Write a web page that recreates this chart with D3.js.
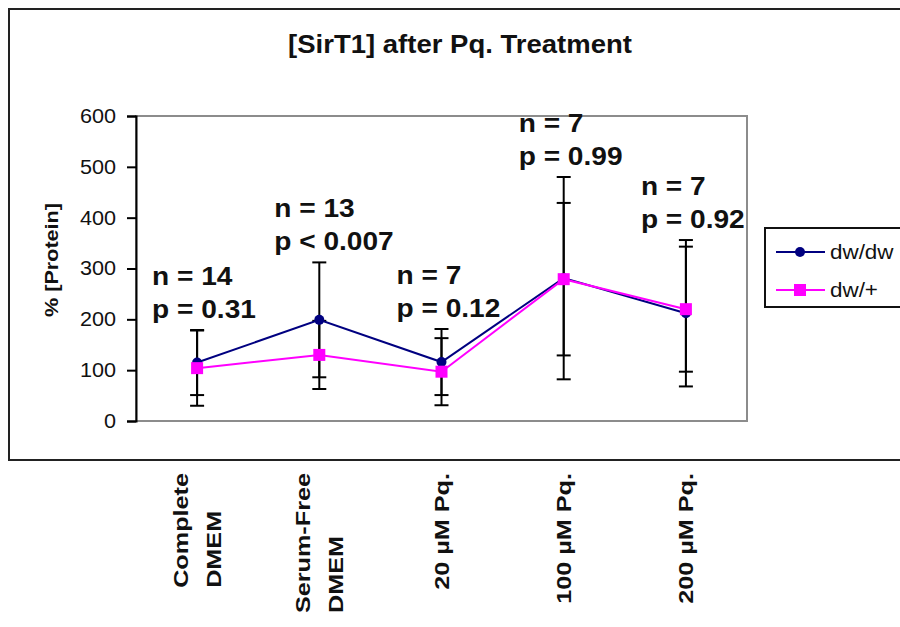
<!DOCTYPE html>
<html>
<head>
<meta charset="utf-8">
<script src="https://cdn.jsdelivr.net/npm/d3@7"></script>
<style>
  html, body { margin: 0; padding: 0; background: #fff; }
  svg { display: block; }
  text { font-family: "Liberation Sans", Arial, sans-serif; fill: #111; }
</style>
</head>
<body>
<svg id="chart" width="900" height="627"></svg>
<script>
// SirT1 protein level per treatment, two genotypes (mean ± error)
const categories = ["Complete DMEM", "Serum-Free DMEM", "20 µM Pq.", "100 µM Pq.", "200 µM Pq."];
const categoryLines = [["Complete", "DMEM"], ["Serum-Free", "DMEM"], ["20 µM Pq."], ["100 µM Pq."], ["200 µM Pq."]];
const dwdwValues = [115, 199, 116, 281, 212];
const dwdwErrors = [64, 113, 65, 199, 144];
const dwplusValues = [104, 130, 97, 279, 220];
const dwplusErrors = [74, 67, 66, 150, 123];
const nLabels = ["n = 14", "n = 13", "n = 7", "n = 7", "n = 7"];
const pLabels = ["p = 0.31", "p < 0.007", "p = 0.12", "p = 0.99", "p = 0.92"];
const yTicks = [0, 100, 200, 300, 400, 500, 600];
const seriesNames = ["dw/dw", "dw/+"];

const series = [
  { name: seriesNames[0], values: dwdwValues, errors: dwdwErrors, color: "#000080", marker: "circle" },
  { name: seriesNames[1], values: dwplusValues, errors: dwplusErrors, color: "#ff00ff", marker: "square" }
];

const svg = d3.select("#chart");

// widen text horizontally by a factor
function stretch(sel, f) {
  sel.each(function () {
    const len = this.getComputedTextLength();
    d3.select(this).attr("textLength", len * f).attr("lengthAdjust", "spacingAndGlyphs");
  });
}

// outer chart frame
svg.append("rect").attr("x", 9).attr("y", 9).attr("width", 1000).attr("height", 451)
  .attr("fill", "#fff").attr("stroke", "#222").attr("stroke-width", 2);

const plot = { left: 136, right: 747, top: 116, bottom: 421 };
const x = d3.scaleBand().domain(categories).range([plot.left, plot.right]);
const cx = c => x(c) + x.bandwidth() / 2;
const y = d3.scaleLinear().domain([0, 600]).range([plot.bottom, plot.top]);

// plot area border
svg.append("rect").attr("x", plot.left).attr("y", plot.top)
  .attr("width", plot.right - plot.left).attr("height", plot.bottom - plot.top)
  .attr("fill", "#fff").attr("stroke", "#8c8c8c").attr("stroke-width", 2);

// title
svg.append("text").attr("x", 460).attr("y", 53).attr("text-anchor", "middle")
  .style("font-size", "25px").style("font-weight", "bold")
  .text("[SirT1] after Pq. Treatment").call(stretch, 1.1);

// y axis
const yAxis = svg.append("g").attr("transform", `translate(${plot.left},0)`)
  .call(d3.axisLeft(y).tickValues(yTicks).tickSize(9).tickPadding(11));
yAxis.select(".domain").attr("stroke", "#000").attr("stroke-width", 2);
yAxis.selectAll(".tick line").attr("stroke", "#000").attr("stroke-width", 2);
yAxis.selectAll(".tick text").style("font-size", "20px").style("font-family", "Liberation Sans, Arial, sans-serif")
  .attr("fill", "#111").call(stretch, 1.08);

// y axis title
svg.append("text").attr("transform", "translate(58,260) rotate(-90)").attr("text-anchor", "middle")
  .style("font-size", "18px").style("font-weight", "bold")
  .text("% [Protein]").call(stretch, 1.2);

// category labels, rotated, lines aligned at their start
categories.forEach((c, i) => {
  const lines = categoryLines[i];
  const g = svg.append("g");
  const texts = g.selectAll("text").data(lines).join("text")
    .style("font-size", "21px").style("font-weight", "bold")
    .text(d => d);
  stretch(texts, 1.2);
  const widths = [];
  texts.each(function () { widths.push(+d3.select(this).attr("textLength")); });
  const maxW = d3.max(widths);
  const lineGap = 33;
  const blockOffset = (lines.length - 1) * lineGap / 2;
  const baseX = cx(c) + 7 - blockOffset;
  texts.attr("transform", (d, j) => `translate(${baseX + j * lineGap},${473 + maxW}) rotate(-90)`)
    .attr("text-anchor", "start");
});

// error bars
const capW = 14;
series.forEach(s => {
  const g = svg.append("g").attr("stroke", "#000").attr("stroke-width", 2);
  categories.forEach((c, i) => {
    const hi = y(s.values[i] + s.errors[i]);
    const lo = y(s.values[i] - s.errors[i]);
    const xc = cx(c);
    g.append("line").attr("x1", xc).attr("x2", xc).attr("y1", hi).attr("y2", lo);
    g.append("line").attr("x1", xc - capW / 2).attr("x2", xc + capW / 2).attr("y1", hi).attr("y2", hi);
    g.append("line").attr("x1", xc - capW / 2).attr("x2", xc + capW / 2).attr("y1", lo).attr("y2", lo);
  });
});

// series lines and markers
const line = d3.line().x((d, i) => cx(categories[i])).y(d => y(d));
series.forEach(s => {
  svg.append("path").datum(s.values).attr("d", line)
    .attr("fill", "none").attr("stroke", s.color).attr("stroke-width", 2);
  const pts = svg.append("g");
  s.values.forEach((v, i) => {
    if (s.marker === "circle") {
      pts.append("circle").attr("cx", cx(categories[i])).attr("cy", y(v)).attr("r", 5).attr("fill", s.color);
    } else {
      pts.append("rect").attr("x", cx(categories[i]) - 6).attr("y", y(v) - 6)
        .attr("width", 12).attr("height", 12).attr("fill", s.color);
    }
  });
});

// n / p annotations above each category
categories.forEach((c, i) => {
  const top = d3.max(series, s => s.values[i] + s.errors[i]);
  const baseY = y(top) - 12;
  const xs = cx(c) - 45;
  svg.append("text").attr("x", xs).attr("y", baseY - 33)
    .style("font-size", "26px").style("font-weight", "bold").text(nLabels[i]).call(stretch, 1.08);
  svg.append("text").attr("x", xs).attr("y", baseY)
    .style("font-size", "26px").style("font-weight", "bold").text(pLabels[i]).call(stretch, 1.08);
});

// legend
const lg = svg.append("g");
lg.append("rect").attr("x", 765).attr("y", 228).attr("width", 170).attr("height", 79)
  .attr("fill", "#fff").attr("stroke", "#111").attr("stroke-width", 2);
series.forEach((s, i) => {
  const ly = 252 + i * 38;
  lg.append("line").attr("x1", 776).attr("x2", 825).attr("y1", ly).attr("y2", ly)
    .attr("stroke", s.color).attr("stroke-width", 2);
  if (s.marker === "circle") {
    lg.append("circle").attr("cx", 800).attr("cy", ly).attr("r", 5).attr("fill", s.color);
  } else {
    lg.append("rect").attr("x", 794).attr("y", ly - 6).attr("width", 12).attr("height", 12).attr("fill", s.color);
  }
  lg.append("text").attr("x", 830).attr("y", ly + 7).style("font-size", "20px")
    .text(s.name).call(stretch, 1.12);
});
</script>
</body>
</html>
